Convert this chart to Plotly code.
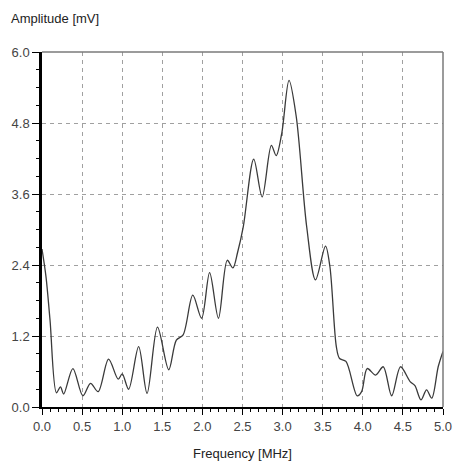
import plotly.graph_objects as go

freq = [0.0, 0.05, 0.10, 0.18, 0.23, 0.27, 0.385, 0.51, 0.605, 0.70, 0.83, 0.95, 1.0, 1.08,
        1.205, 1.31, 1.44, 1.58, 1.675, 1.76, 1.88, 1.99, 2.09, 2.20, 2.31, 2.38, 2.44,
        2.51, 2.64, 2.745, 2.86, 2.92, 2.99, 3.08, 3.17, 3.30, 3.41, 3.535, 3.59, 3.67,
        3.71, 3.79, 3.93, 3.985, 4.055, 4.16, 4.255, 4.36, 4.47, 4.59, 4.65, 4.725, 4.795,
        4.86, 4.94, 5.0]
amp = [2.67, 2.2, 1.47, 0.24, 0.34, 0.22, 0.65, 0.19, 0.40, 0.26, 0.81, 0.47, 0.56, 0.30,
       1.02, 0.23, 1.35, 0.63, 1.13, 1.22, 1.89, 1.50, 2.27, 1.50, 2.48, 2.35, 2.62,
       3.05, 4.19, 3.55, 4.42, 4.25, 4.63, 5.52, 4.91, 3.05, 2.15, 2.72, 2.37, 1.02,
       0.82, 0.77, 0.19, 0.26, 0.65, 0.54, 0.68, 0.19, 0.68, 0.43, 0.36, 0.12, 0.29,
       0.15, 0.68, 0.94]

x_ticks = [0.0, 0.5, 1.0, 1.5, 2.0, 2.5, 3.0, 3.5, 4.0, 4.5, 5.0]
y_ticks = [0.0, 1.2, 2.4, 3.6, 4.8, 6.0]

fig = go.Figure()
fig.add_trace(go.Scatter(
    x=freq, y=amp, mode="lines",
    line=dict(color="#3a3a3a", width=1.3, shape="spline", smoothing=0.9),
    showlegend=False, hoverinfo="skip",
))

font = dict(family="Liberation Sans, Arial, sans-serif", size=13, color="#444444")

fig.update_layout(
    width=454, height=473,
    margin=dict(l=42, r=11, t=52, b=66),
    paper_bgcolor="white", plot_bgcolor="white",
    font=font,
    xaxis=dict(
        range=[0, 5], tickvals=x_ticks, ticktext=[f"{v:.1f}" for v in x_ticks],
        ticks="outside", ticklen=6, tickwidth=1, tickcolor="black",
        showline=True, linecolor="black", linewidth=2,
        showgrid=True, gridcolor="#a0a0a0", griddash="4px,4px", gridwidth=1,
        zeroline=False, automargin=False,
        minor=dict(dtick=0.1, ticks="outside", ticklen=3, tickcolor="black", showgrid=False),
        title=dict(text="Frequency [MHz]", font=dict(size=13, color="#222222"), standoff=16),
        fixedrange=True,
    ),
    yaxis=dict(
        range=[0, 6], tickvals=y_ticks, ticktext=[f"{v:.1f}" for v in y_ticks],
        ticks="outside", ticklen=7, tickwidth=1, tickcolor="black",
        showline=True, linecolor="black", linewidth=2.5,
        showgrid=True, gridcolor="#a0a0a0", griddash="4px,4px", gridwidth=1,
        zeroline=False, automargin=False,
        minor=dict(dtick=0.3, ticks="outside", ticklen=3, tickcolor="black", showgrid=False),
        fixedrange=True,
    ),
    shapes=[
        dict(type="line", xref="paper", yref="paper", x0=0, x1=1, y0=1, y1=1,
             line=dict(color="#7a7a7a", width=1.5)),
        dict(type="line", xref="paper", yref="paper", x0=1, x1=1, y0=0, y1=1,
             line=dict(color="#7a7a7a", width=1.5)),
    ],
    annotations=[
        dict(text="Amplitude [mV]", xref="paper", yref="paper", x=-0.083, y=1.093,
             xanchor="left", yanchor="middle", showarrow=False,
             font=dict(size=13, color="#222222")),
    ],
)

fig.write_html("out.html",
               config={"displayModeBar": False},
               post_script="document.body.style.margin='0';document.body.style.overflow='hidden';")
